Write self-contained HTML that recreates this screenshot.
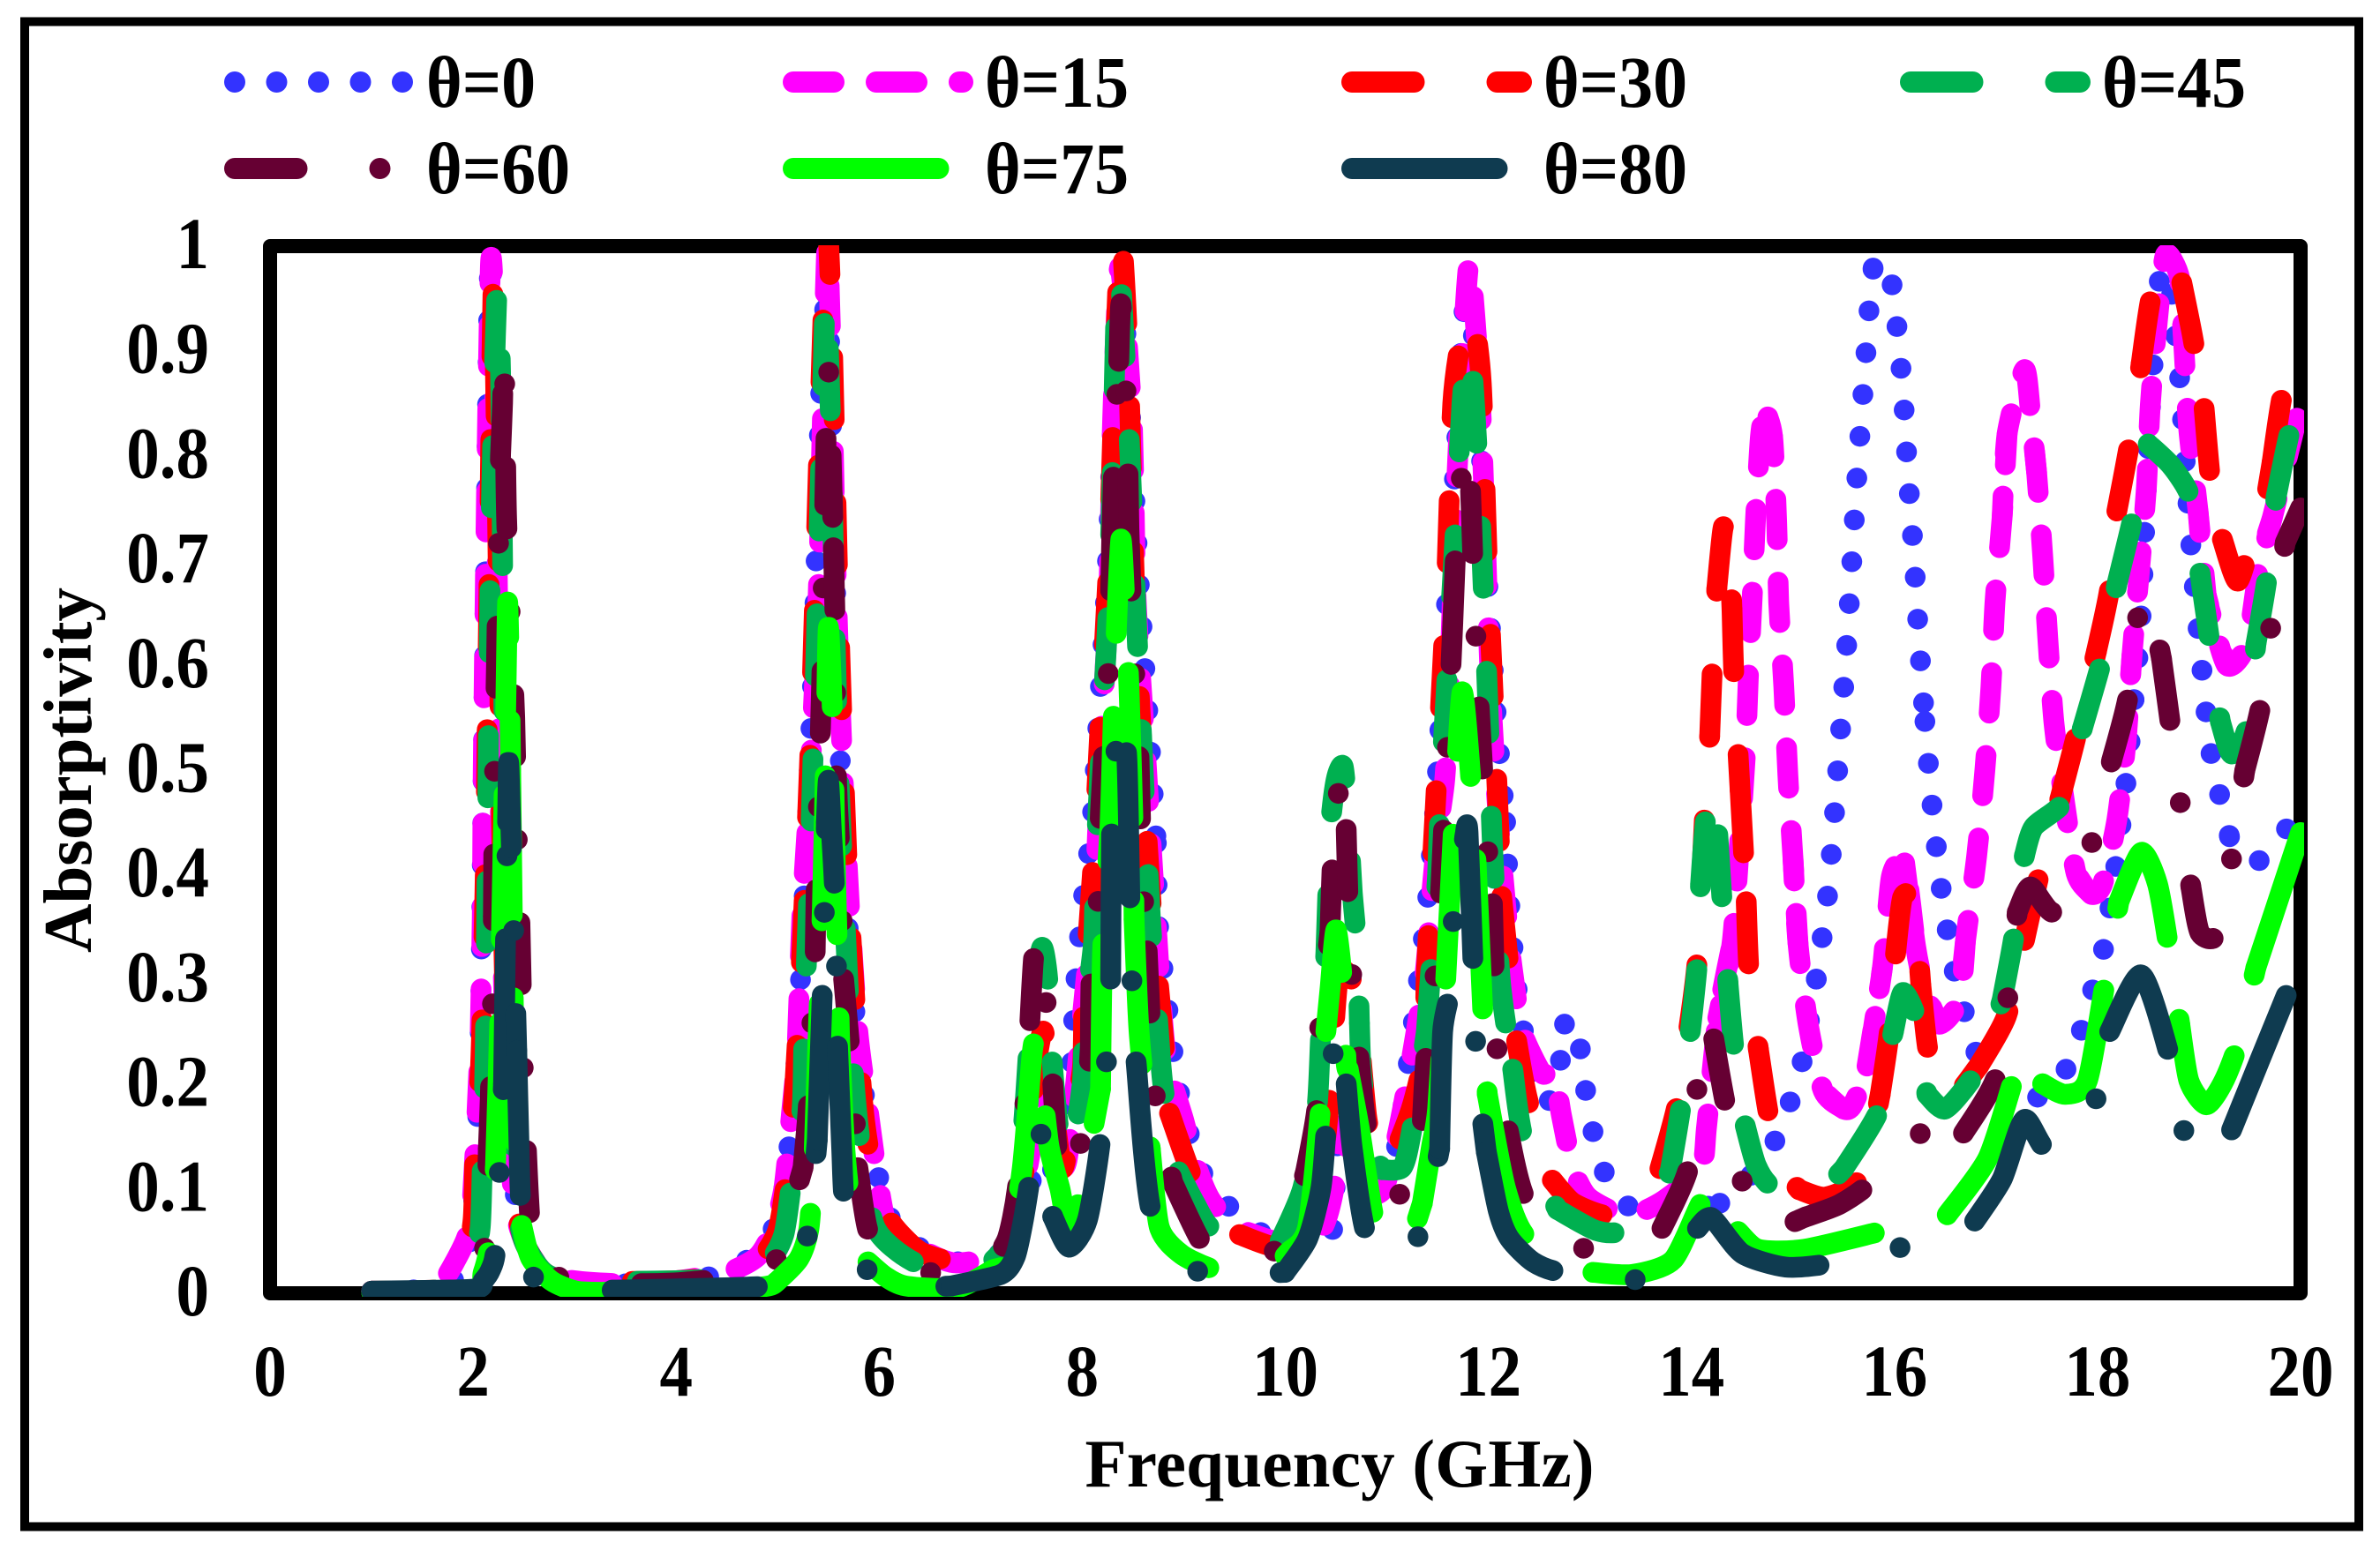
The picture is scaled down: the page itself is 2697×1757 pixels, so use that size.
<!DOCTYPE html>
<html lang="en">
<head>
<meta charset="utf-8">
<title>Absorptivity vs Frequency</title>
<style>
html,body{margin:0;padding:0;background:#fff;}
#chart{display:block;width:2697px;height:1757px;}
text{font-family:"Liberation Serif","DejaVu Serif",serif;font-weight:bold;fill:#000;}
</style>
</head>
<body>
<svg id="chart" xmlns="http://www.w3.org/2000/svg" width="2697" height="1757" viewBox="0 0 2697 1757">
  <defs><clipPath id="plot-clip"><rect x="300" y="278" width="2311" height="1192"/></clipPath></defs>
  <rect x="0" y="0" width="2697" height="1757" fill="#fff"/>
  <rect x="28" y="24.5" width="2645" height="1706" fill="none" stroke="#000" stroke-width="10"/>
  <g id="legend"></g>
  <rect x="306" y="279" width="2301" height="1187" fill="none" stroke="#000" stroke-width="16" stroke-linejoin="round"/>
  <g id="y-ticks"></g>
  <g id="x-ticks"></g>
  <g id="series" clip-path="url(#plot-clip)"></g>
  <text x="1518" y="1685" font-size="77" text-anchor="middle" textLength="577" lengthAdjust="spacing">Frequency (GHz)</text>
  <text transform="translate(103,873) rotate(-90)" font-size="77" text-anchor="middle" textLength="414" lengthAdjust="spacing">Absorptivity</text>
</svg>
<script>
const yTickLabels = ["0","0.1","0.2","0.3","0.4","0.5","0.6","0.7","0.8","0.9","1"];
const xTickLabels = ["0","2","4","6","8","10","12","14","16","18","20"];
const seriesNames = ["θ=0","θ=15","θ=30","θ=45","θ=60","θ=75","θ=80"];

const theta0Freq = [
1,1.5,1.8,1.95,2.02,2.07,2.1,2.13,2.16,2.18,
2.21,2.25,2.29,2.34,2.42,2.5,2.7,3,3.5,4,
4.5,4.9,5.06,5.14,5.2,5.27,5.35,5.42,5.47,5.5,
5.55,5.62,5.7,5.8,5.9,6.02,6.15,6.5,6.8,7.1,
7.3,7.45,7.55,7.62,7.72,7.82,7.89,7.93,8,8.09,
8.16,8.24,8.3,8.35,8.4,8.48,8.56,8.65,8.73,8.75,
8.84,8.95,9.18,9.66,10.1,10.44,10.5,10.55,10.62,10.72,
10.9,11.1,11.25,11.4,11.5,11.6,11.68,11.75,11.82,11.9,
11.98,12.08,12.17,12.21,12.28,12.41,12.57,12.7,12.75,12.87,
12.92,12.98,13.06,13.19,13.46,13.8,14.28,14.58,14.82,14.97,
15.09,15.23,15.34,15.41,15.47,15.53,15.58,15.63,15.69,15.75,
15.79,15.93,16,16.08,16.13,16.19,16.24,16.3,16.37,16.46,
16.59,16.8,16.97,17.4,17.69,17.84,17.95,18.06,18.18,18.28,
18.36,18.43,18.5,18.61,18.73,18.81,18.92,19.03,19.12,19.3,
19.55,19.83,20];
const theta0Abs = [
.002,.004,.012,.04,.11,.25,.5,.75,.97,.985,
.9,.65,.4,.2,.09,.05,.02,.011,.009,.012,
.02,.05,.1,.17,.25,.4,.6,.85,.95,.95,
.75,.5,.34,.23,.16,.1,.065,.037,.03,.035,
.045,.08,.14,.15,.115,.12,.206,.289,.368,.445,
.55,.68,.83,.95,.96,.83,.68,.55,.43,.353,
.274,.195,.116,.063,.05,.05,.12,.2,.17,.1,
.09,.142,.25,.375,.5,.68,.8,.93,.94,.86,
.7,.55,.45,.372,.293,.217,.18,.217,.257,.26,
.221,.18,.142,.105,.077,.075,.086,.112,.145,.182,
.221,.3,.379,.459,.539,.619,.699,.779,.859,.939,
.979,.986,.945,.866,.786,.706,.626,.546,.466,.387,
.307,.231,.2,.187,.214,.251,.289,.329,.408,.487,
.567,.648,.808,.968,.954,.873,.714,.594,.514,.436,
.411,.44,.46];

const theta15Freq = [
1,1.5,1.7,1.82,1.945,1.995,2.04,2.07,2.09,2.1,
2.13,2.17,2.2,2.23,2.27,2.32,2.4,2.5,2.7,3,
3.5,4,4.5,4.8,4.95,5.06,5.14,5.19,5.24,5.31,
5.4,5.48,5.52,5.585,5.65,5.71,5.79,5.89,6,6.11,
6.51,6.76,7.16,7.35,7.48,7.58,7.65,7.75,7.85,7.98,
8.13,8.185,8.26,8.3,8.37,8.49,8.53,8.617,8.71,8.82,
9,9.13,9.26,9.46,9.64,9.997,10.35,10.48,10.55,10.65,
10.8,10.97,11.1,11.2,11.37,11.44,11.5,11.57,11.61,11.67,
11.75,11.81,11.87,11.93,11.99,12.03,12.1,12.2,12.26,12.33,
12.53,12.64,12.72,12.83,12.97,13.23,13.41,13.73,14.09,14.15,
14.26,14.4,14.47,14.53,14.56,14.6,14.63,14.68,14.73,14.8,
14.84,14.86,14.91,14.95,15,15.05,15.15,15.3,15.5,15.59,
15.73,15.88,15.97,16.1,16.21,16.3,16.44,16.64,16.7,16.81,
16.89,16.95,16.99,17.06,17.11,17.28,17.34,17.4,17.46,17.51,
17.57,17.66,17.79,17.94,18.05,18.19,18.28,18.34,18.41,18.48,
18.52,18.59,18.67,18.81,18.85,18.9,18.99,19.07,19.27,19.47,
19.6,19.72,20];
const theta15Abs = [
.002,.003,.012,.03,.056,.093,.176,.25,.36,.5,
.75,.98,.95,.75,.45,.22,.09,.05,.02,.012,
.009,.012,.02,.035,.06,.1,.176,.232,.364,.477,
.67,.99,.92,.65,.48,.364,.25,.176,.1,.06,
.037,.029,.037,.07,.13,.2,.19,.13,.127,.244,
.4,.526,.664,.836,.98,.836,.664,.526,.38,.232,
.165,.12,.09,.067,.058,.048,.06,.1,.16,.12,
.095,.1,.15,.2,.3,.38,.44,.49,.56,.733,
.904,.984,.93,.835,.664,.56,.45,.34,.293,.25,
.21,.213,.17,.12,.093,.078,.074,.089,.119,.16,
.263,.334,.425,.512,.586,.667,.737,.818,.843,.818,
.737,.66,.579,.495,.415,.334,.257,.193,.176,.18,
.217,.31,.398,.411,.33,.29,.257,.28,.337,.418,
.499,.579,.66,.741,.821,.882,.841,.784,.704,.626,
.546,.479,.401,.381,.391,.452,.526,.61,.687,.767,
.848,.929,.992,.969,.905,.824,.747,.667,.6,.62,
.7,.74,.85];

const theta30Freq = [
1,1.7,1.9,2,2.02,2.07,2.09,2.12,2.16,2.2,
2.24,2.28,2.33,2.4,2.5,2.7,3,4,4.5,4.8,
5,5.1,5.17,5.25,5.33,5.42,5.485,5.54,5.6,5.68,
5.76,5.85,5.95,6.1,6.4,6.76,7.1,7.3,7.45,7.55,
7.62,7.7,7.8,7.87,8,8.02,8.1,8.18,8.26,8.32,
8.38,8.45,8.52,8.6,8.68,8.8,8.86,9.11,9.3,9.55,
9.93,10.2,10.4,10.52,10.65,10.7,10.8,10.88,11,11.24,
11.37,11.39,11.47,11.58,11.65,11.75,11.84,11.93,11.99,12.07,
12.13,12.28,12.39,12.63,12.84,13.19,13.45,13.69,13.86,13.97,
14.06,14.13,14.18,14.21,14.25,14.31,14.36,14.4,14.42,14.48,
14.54,14.57,14.66,14.77,14.93,15.06,15.33,15.68,15.86,15.95,
16.01,16.08,16.19,16.26,16.34,16.52,16.83,17.1,17.28,17.43,
17.63,17.79,17.99,18.12,18.19,18.32,18.43,18.54,18.72,18.83,
18.94,19.05,19.12,19.23,19.38,19.52,19.6,19.72,19.83,20];
const theta30Abs = [
.002,.004,.02,.07,.14,.21,.27,.4,.7,.965,
.75,.45,.22,.1,.05,.02,.012,.012,.018,.03,
.06,.12,.2,.35,.55,.85,1.02,.9,.65,.42,
.28,.17,.11,.07,.04,.03,.035,.06,.13,.22,
.25,.19,.12,.146,.214,.289,.4,.55,.7,.88,
1.01,.9,.66,.5,.37,.244,.172,.105,.08,.056,
.044,.06,.15,.3,.3,.274,.17,.138,.12,.176,
.232,.307,.45,.66,.85,.92,.937,.87,.7,.52,
.379,.24,.184,.108,.086,.074,.09,.119,.18,.25,
.321,.458,.532,.606,.673,.73,.73,.653,.586,.48,
.374,.304,.233,.166,.116,.099,.092,.112,.19,.25,
.324,.378,.374,.294,.227,.183,.217,.264,.337,.401,
.472,.532,.613,.673,.747,.814,.888,.956,.975,.965,
.912,.845,.771,.72,.68,.72,.727,.794,.861,.88];

const theta45Freq = [
1,1.8,2,2.07,2.09,2.12,2.16,2.18,2.21,2.24,
2.27,2.29,2.31,2.35,2.42,2.5,2.7,3,4,4.5,
4.9,5.06,5.14,5.24,5.26,5.32,5.38,5.44,5.47,5.5,
5.53,5.56,5.6,5.66,5.73,5.81,5.96,6.36,6.8,7.1,
7.3,7.42,7.5,7.6,7.66,7.71,7.78,7.88,8,8.02,
8.11,8.13,8.2,8.26,8.3,8.34,8.38,8.47,8.53,8.6,
8.67,8.75,8.8,8.95,9.11,9.26,9.6,9.95,10.17,10.31,
10.35,10.4,10.44,10.5,10.57,10.62,10.66,10.71,10.73,10.75,
10.84,10.95,11.15,11.24,11.39,11.46,11.5,11.53,11.6,11.67,
11.74,11.81,11.87,11.93,12,12.04,12.12,12.24,12.35,12.68,
13.06,13.32,13.6,13.79,13.9,13.99,14.06,14.09,14.15,14.26,
14.3,14.36,14.42,14.53,14.64,14.79,15.19,15.5,15.84,15.93,
15.99,16.08,16.19,16.26,16.32,16.5,16.77,16.92,17.06,17.17,
17.23,17.28,17.37,17.63,17.77,17.85,18.03,18.12,18.19,18.34,
18.41,18.5,18.72,18.9,18.96,19.01,19.1,19.16,19.21,19.32,
19.47,19.56,19.67,19.76,19.89,20];
const theta45Abs = [
.002,.005,.03,.063,.12,.232,.62,.75,.88,.96,
.88,.7,.5,.28,.1,.05,.02,.012,.012,.016,
.03,.056,.108,.176,.25,.42,.62,.85,.953,.9,
.8,.65,.5,.36,.23,.146,.063,.029,.025,.03,
.06,.16,.27,.33,.3,.214,.15,.13,.2,.26,
.334,.405,.55,.66,.8,.96,.965,.8,.65,.5,
.36,.25,.195,.116,.086,.063,.05,.05,.1,.176,
.25,.326,.44,.49,.503,.45,.383,.326,.258,.21,
.15,.118,.12,.153,.25,.345,.4,.477,.6,.72,
.85,.906,.84,.72,.55,.428,.296,.214,.146,.08,
.06,.06,.09,.116,.18,.25,.317,.391,.458,.438,
.378,.297,.233,.16,.122,.102,.092,.119,.173,.223,
.25,.287,.27,.237,.19,.176,.206,.237,.28,.337,
.381,.418,.445,.465,.492,.539,.6,.64,.677,.737,
.774,.811,.791,.764,.727,.687,.626,.579,.546,.515,
.539,.62,.683,.761,.821,.85];

const theta60Freq = [
1,2,2.12,2.15,2.17,2.19,2.2,2.21,2.23,2.25,
2.27,2.29,2.3,2.31,2.32,2.33,2.36,2.41,2.43,2.46,
2.5,2.6,2.9,3.3,4,4.9,4.99,5.25,5.3,5.33,
5.37,5.38,5.4,5.42,5.44,5.45,5.465,5.48,5.495,5.51,
5.55,5.565,5.58,5.62,5.65,5.74,5.79,5.89,6.1,6.49,
6.9,7.1,7.26,7.36,7.45,7.52,7.58,7.65,7.71,7.76,
7.85,8.02,8.08,8.09,8.16,8.18,8.26,8.29,8.32,8.36,
8.38,8.41,8.44,8.46,8.5,8.55,8.59,8.64,8.68,8.73,
8.89,9.18,9.4,9.95,10.2,10.31,10.34,10.44,10.46,10.49,
10.55,10.6,10.62,10.66,10.73,10.82,11.11,11.35,11.39,11.48,
11.53,11.6,11.65,11.7,11.8,11.86,11.91,11.98,12.04,12.06,
12.09,12.2,12.39,13,13.71,13.97,14.06,14.22,14.33,14.51,
14.75,15.13,15.46,15.77,16.16,16.68,17,17.12,17.21,17.34,
17.59,17.95,18.14,18.3,18.4,18.5,18.63,18.72,18.82,18.92,
19.01,19.19,19.33,19.45,19.61,19.71,19.85,20];
const theta60Abs = [
.002,.005,.054,.138,.19,.274,.36,.49,.6,.713,
.8,.85,.903,.879,.8,.74,.662,.55,.45,.36,
.2,.03,.015,.01,.01,.02,.033,.12,.176,.243,
.326,.39,.46,.535,.61,.686,.757,.836,.887,.86,
.712,.64,.49,.41,.3,.2,.12,.06,.03,.02,
.02,.03,.052,.1,.2,.32,.335,.272,.2,.13,
.105,.159,.236,.308,.379,.46,.6,.72,.819,.89,
.945,.9,.84,.73,.62,.54,.4,.327,.243,.18,
.106,.048,.035,.044,.116,.176,.255,.345,.403,.477,
.47,.443,.372,.296,.221,.15,.093,.165,.232,.308,
.383,.528,.64,.748,.81,.665,.56,.44,.372,.3,
.227,.153,.086,.041,.062,.119,.198,.243,.183,.104,
.062,.073,.085,.106,.15,.153,.206,.285,.364,.388,
.364,.432,.509,.569,.648,.666,.606,.542,.465,.388,
.344,.344,.421,.499,.562,.638,.717,.75];

const theta75Freq = [
1,2,2.1,2.17,2.22,2.26,2.29,2.32,2.34,2.36,
2.37,2.39,2.41,2.44,2.49,2.57,2.77,3.02,3.34,4,
4.6,4.91,5,5.21,5.31,5.36,5.44,5.48,5.5,5.54,
5.57,5.61,5.66,5.74,5.89,6.06,6.26,6.76,7.11,7.26,
7.41,7.51,7.56,7.67,7.78,7.87,8,8.07,8.18,8.2,
8.27,8.3,8.33,8.38,8.42,8.46,8.5,8.51,8.56,8.67,
8.76,8.98,9.33,9.8,10.04,10.22,10.35,10.4,10.44,10.5,
10.57,10.6,10.62,10.73,10.88,11.05,11.2,11.35,11.44,11.5,
11.58,11.66,11.74,11.82,11.88,11.95,11.99,12.17,12.39,13.03,
13.42,13.82,14.11,14.25,14.46,14.66,15.11,15.86,16.52,16.92,
17.17,17.3,17.46,17.68,17.9,18.08,18.21,18.43,18.59,18.7,
18.81,18.9,19.07,19.23,19.38,19.56,20];
const theta75Abs = [
.001,.003,.02,.05,.12,.25,.4,.55,.66,.58,
.5,.33,.18,.09,.06,.033,.012,.002,.001,.002,
.004,.007,.012,.033,.063,.138,.368,.55,.636,.55,
.4,.244,.14,.07,.03,.016,.007,.005,.022,.033,
.12,.232,.235,.142,.1,.06,.1,.138,.195,.326,
.44,.53,.62,.72,.66,.58,.45,.357,.25,.138,
.063,.037,.022,.02,.04,.063,.18,.25,.29,.347,
.29,.22,.214,.157,.07,.05,.045,.086,.14,.176,
.3,.45,.574,.5,.41,.26,.19,.1,.052,.02,
.018,.032,.089,.09,.059,.042,.042,.059,.075,.129,
.203,.235,.2,.19,.203,.3,.374,.421,.391,.331,
.257,.203,.18,.2,.237,.311,.44];

const theta80Freq = [
1,2,2.1,2.17,2.22,2.26,2.3,2.32,2.34,2.35,
2.37,2.39,2.41,2.43,2.45,2.47,2.55,2.62,2.8,3.37,
4.91,5.2,5.31,5.39,5.44,5.46,5.48,5.5,5.53,5.56,
5.58,5.59,5.63,5.66,5.8,5.96,6.3,6.71,7.2,7.34,
7.42,7.49,7.57,7.6,7.65,7.71,7.87,8.05,8.18,8.24,
8.28,8.29,8.336,8.38,8.44,8.47,8.49,8.53,8.69,9.16,
9.997,10.22,10.35,10.4,10.47,10.53,10.6,10.66,10.8,11.1,
11.36,11.52,11.55,11.63,11.66,11.77,11.8,11.86,11.89,11.98,
12.1,12.21,12.44,12.72,13.49,14.06,14.2,14.5,14.93,15.35,
15.7,16.1,16.79,17.06,17.28,17.52,17.94,18.12,18.43,18.7,
18.87,19.32,19.87,20];
const theta80Abs = [
.002,.004,.012,.022,.04,.118,.2,.34,.45,.507,
.45,.383,.308,.232,.15,.087,.03,.012,.006,.003,
.007,.02,.066,.146,.289,.366,.45,.49,.44,.386,
.308,.236,.14,.086,.035,.016,.006,.007,.018,.035,
.07,.112,.165,.146,.11,.073,.044,.07,.146,.223,
.3,.447,.523,.556,.51,.372,.296,.221,.074,.02,
.02,.052,.1,.153,.228,.25,.2,.138,.056,.03,
.065,.138,.25,.293,.364,.437,.44,.285,.209,.135,
.078,.052,.03,.02,.014,.062,.072,.038,.025,.028,
.035,.045,.069,.109,.166,.136,.173,.25,.304,.23,
.152,.156,.287,.31];

/* Frequencies at which the original's dash pattern restarts cleanly */
const theta0DashFreqs = [8.73,12.17,12.75,14.28,15.23,15.79,16.3,17.69,18.36,18.73,19.3];
const theta15DashFreqs = [14.4,14.8,15.05,15.5,15.88,16.21,16.44,16.7,17.11,17.4,17.94,18.34,18.85,19.07,19.27,19.72];
const theta30DashFreqs = [8.86,9.55,12.13,12.28,12.63,13.69,14.18,14.25,14.4,14.48,14.54,14.66,15.06,15.86,16.01,16.26,16.83,17.28,17.63,17.99,18.19,18.43,18.83,19.05,19.23,19.72];
const theta45DashFreqs = [8.75,8.95,9.95,10.73,10.95,11.39,12.24,12.68,13.79,13.99,14.09,14.26,14.36,14.53,15.5,15.99,16.32,17.06,17.28,17.85,18.19,18.5,19.01,19.21,19.56,19.76];
const theta60DashFreqs = [2.15,2.2,2.27,5.25,5.37,5.42,5.465,5.55,5.65,5.79,7.71,8.08,8.29,8.36,8.46,8.64,8.89,10.2,10.44,10.6,10.73,11.35,11.53,11.65,11.91,12.04,12.2,13.71,14.22,15.13,16.68,17.21,18.14,18.63,18.92,19.45,19.85];
const theta75DashFreqs = [2.22,2.37,5.36,5.61,5.89,8.18,8.51,8.67,10.04,10.4,10.62,11.35,11.58,11.88,11.99,13.03,14.46,16.52,17.46,18.21,18.81,19.56];
const theta80DashFreqs = [2.3,2.34,2.43,3.37,5.39,5.48,5.59,6.71,7.71,8.28,8.53,9.997,10.6,11.52,11.77,11.98,14.06,16.79,18.12,19.32];

const seriesFreq = [theta0Freq,theta15Freq,theta30Freq,theta45Freq,theta60Freq,theta75Freq,theta80Freq];
const seriesAbs = [theta0Abs,theta15Abs,theta30Abs,theta45Abs,theta60Abs,theta75Abs,theta80Abs];
const seriesDashFreqs = [theta0DashFreqs,theta15DashFreqs,theta30DashFreqs,theta45DashFreqs,theta60DashFreqs,theta75DashFreqs,theta80DashFreqs];

const SVGNS = "http://www.w3.org/2000/svg";
const colors = ["#3333FF","#FF00FF","#FF0000","#00B050","#660033","#00FF00","#0F3B50"];
const dashes = ["0 47.5","46 48","70.5 94","70.5 94","70.5 94 0 94","164.5 94","164.5 94 0 94"];
const periods = [47.5,94,164.5,164.5,258.5,258.5,352.5];
const anchorPhases = [0,23,0,0,0,0,0];
const slugs = ["theta-0","theta-15","theta-30","theta-45","theta-60","theta-75","theta-80"];

function xScale(f){ return 306 + f * (2607 - 306) / 20; }
function yScale(v){ return 1466 - v * 1187; }

function linePath(fs, vs, start, end){
  const pts = [];
  for (let i = start; i <= end; i++) pts.push([xScale(fs[i]), yScale(vs[i])]);
  const n = pts.length, k = 0.12;
  let d = "M" + pts[0][0].toFixed(1) + " " + pts[0][1].toFixed(1);
  for (let i = 0; i < n - 1; i++) {
    const p0 = pts[Math.max(i - 1, 0)], p1 = pts[i], p2 = pts[i + 1], p3 = pts[Math.min(i + 2, n - 1)];
    const c1x = p1[0] + (p2[0] - p0[0]) * k, c1y = p1[1] + (p2[1] - p0[1]) * k;
    const c2x = p2[0] - (p3[0] - p1[0]) * k, c2y = p2[1] - (p3[1] - p1[1]) * k;
    d += "C" + c1x.toFixed(1) + " " + c1y.toFixed(1) + " " + c2x.toFixed(1) + " " + c2y.toFixed(1) + " " + p2[0].toFixed(1) + " " + p2[1].toFixed(1);
  }
  return d;
}

const seriesGroup = document.getElementById("series");
seriesNames.forEach(function(name, s){
  const fs = seriesFreq[s], vs = seriesAbs[s];
  const last = Math.min(fs.length, vs.length) - 1;
  const g = document.createElementNS(SVGNS, "g");
  
  
  const starts = [0];
  for (let i = 1; i < last; i++) {
    if (seriesDashFreqs[s].indexOf(fs[i]) >= 0) starts.push(i);
  }
  starts.forEach(function(startIdx, j){
    const endIdx = j + 1 < starts.length ? starts[j + 1] : last;
    const phase = anchorPhases[s];
    let from = startIdx, offset = 0;
    if (phase > 0 && startIdx > 0) {
      from = startIdx - 1;
      const lead = Math.hypot(xScale(fs[startIdx]) - xScale(fs[from]), yScale(vs[startIdx]) - yScale(vs[from]));
      offset = ((phase - lead) % periods[s] + periods[s]) % periods[s];
    }
    const path = document.createElementNS(SVGNS, "path");
    path.setAttribute("d", linePath(fs, vs, from, endIdx));
    path.setAttribute("fill", "none");
    path.setAttribute("stroke", colors[s]);
    path.setAttribute("stroke-width", "23.5");
    path.setAttribute("stroke-linecap", "round");
    path.setAttribute("stroke-linejoin", "round");
    path.setAttribute("stroke-dasharray", dashes[s]);
    path.setAttribute("stroke-dashoffset", offset.toFixed(1));
    
    
    g.appendChild(path);
  });
  seriesGroup.appendChild(g);
});

const yTicks = document.getElementById("y-ticks");
yTickLabels.forEach(function(label){
  const t = document.createElementNS(SVGNS, "text");
  t.setAttribute("transform", "translate(237," + (yScale(parseFloat(label)) + 25) + ") scale(1,1.1)");
  t.setAttribute("font-size", "75");
  t.setAttribute("text-anchor", "end");
  t.textContent = label;
  
  
  yTicks.appendChild(t);
});

const xTicks = document.getElementById("x-ticks");
xTickLabels.forEach(function(label){
  const t = document.createElementNS(SVGNS, "text");
  t.setAttribute("transform", "translate(" + xScale(parseFloat(label)) + ",1582) scale(1,1.1)");
  t.setAttribute("font-size", "75");
  t.setAttribute("text-anchor", "middle");
  t.textContent = label;
  
  
  xTicks.appendChild(t);
});

const legend = document.getElementById("legend");
seriesNames.forEach(function(name, i){
  const col = i % 4, row = Math.floor(i / 4);
  const left = 254 + col * 633, cy = 93 + row * 98;
  const entry = document.createElementNS(SVGNS, "g");
  
  
  const sample = document.createElementNS(SVGNS, "path");
  sample.setAttribute("d", "M" + (left + 12) + " " + cy + "H" + (left + 204));
  sample.setAttribute("fill", "none");
  sample.setAttribute("stroke", colors[i]);
  sample.setAttribute("stroke-width", "24");
  sample.setAttribute("stroke-linecap", "round");
  sample.setAttribute("stroke-dasharray", dashes[i]);
  
  
  entry.appendChild(sample);
  const label = document.createElementNS(SVGNS, "text");
  label.setAttribute("transform", "translate(" + (left + 229) + "," + (cy + 28) + ") scale(1,1.06)");
  label.setAttribute("font-size", "78");
  label.textContent = name;
  
  
  entry.appendChild(label);
  legend.appendChild(entry);
});
</script>
</body>
</html>
